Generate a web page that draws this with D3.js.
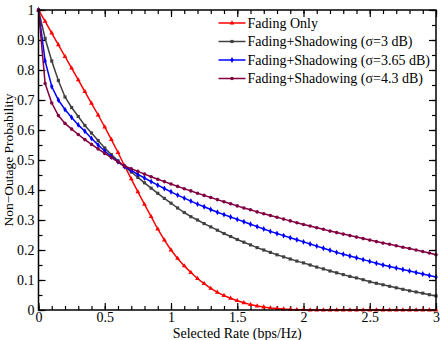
<!DOCTYPE html>
<html>
<head>
<meta charset="utf-8">
<script src="https://cdn.jsdelivr.net/npm/d3@7"></script>
<style>
body { margin: 0; background: #fff; }
svg text { font-family: "Liberation Serif", "Times New Roman", serif; }
</style>
</head>
<body>
<svg id="chart" width="441" height="340"></svg>
<script>
// rate grid, 0 to 3 bps/Hz in 0.05 steps
const rates = d3.range(0, 61).map(i => +(i * 0.05).toFixed(2))

const fadingOnly = [
    1.000, 0.962, 0.923, 0.884, 0.845, 0.806, 0.767, 0.728, 0.689, 0.650,
    0.610, 0.568, 0.525, 0.480, 0.437, 0.394, 0.352, 0.311, 0.270, 0.233,
    0.200, 0.172, 0.147, 0.125, 0.105, 0.088, 0.072, 0.059, 0.048, 0.039,
    0.031, 0.024, 0.018, 0.013, 0.010, 0.007, 0.005, 0.003, 0.002, 0.001,
    0.001, 0, 0, 0, 0, 0, 0, 0, 0, 0,
    0, 0, 0, 0, 0, 0, 0, 0, 0, 0,
    0
]
const shadow3 = [
    1.000, 0.905, 0.830, 0.765, 0.710, 0.675, 0.645, 0.615, 0.590, 0.565,
    0.540, 0.518, 0.497, 0.478, 0.460, 0.442, 0.424, 0.406, 0.389, 0.372,
    0.356, 0.340, 0.325, 0.311, 0.300, 0.288, 0.277, 0.266, 0.255, 0.245,
    0.235, 0.226, 0.217, 0.208, 0.200, 0.192, 0.184, 0.177, 0.170, 0.163,
    0.157, 0.150, 0.143, 0.137, 0.130, 0.124, 0.118, 0.112, 0.107, 0.101,
    0.094, 0.089, 0.084, 0.079, 0.074, 0.069, 0.064, 0.060, 0.056, 0.051,
    0.047
]
const shadow365 = [
    1.000, 0.830, 0.745, 0.700, 0.668, 0.642, 0.617, 0.596, 0.572, 0.550,
    0.530, 0.511, 0.494, 0.478, 0.465, 0.452, 0.440, 0.428, 0.416, 0.405,
    0.394, 0.383, 0.373, 0.363, 0.353, 0.344, 0.335, 0.326, 0.318, 0.310,
    0.302, 0.294, 0.286, 0.278, 0.270, 0.262, 0.255, 0.248, 0.241, 0.234,
    0.227, 0.220, 0.213, 0.206, 0.199, 0.192, 0.186, 0.180, 0.174, 0.168,
    0.162, 0.156, 0.150, 0.145, 0.140, 0.135, 0.130, 0.125, 0.120, 0.115,
    0.110
]
const shadow43 = [
    1.000, 0.755, 0.690, 0.648, 0.622, 0.603, 0.585, 0.568, 0.552, 0.537,
    0.522, 0.508, 0.494, 0.480, 0.471, 0.462, 0.453, 0.444, 0.436, 0.428,
    0.420, 0.412, 0.404, 0.397, 0.389, 0.382, 0.375, 0.368, 0.361, 0.354,
    0.347, 0.340, 0.334, 0.327, 0.321, 0.315, 0.309, 0.303, 0.297, 0.291,
    0.285, 0.280, 0.274, 0.269, 0.263, 0.258, 0.253, 0.248, 0.243, 0.238,
    0.233, 0.228, 0.223, 0.219, 0.214, 0.209, 0.205, 0.200, 0.195, 0.190,
    0.184
]

const seriesNames = [
    "Fading Only",
    "Fading+Shadowing (σ=3 dB)",
    "Fading+Shadowing (σ=3.65 dB)",
    "Fading+Shadowing (σ=4.3 dB)"
]
const seriesValues = [fadingOnly, shadow3, shadow365, shadow43]
const seriesColors = ["#ff0000", "#404040", "#0000ff", "#800040"]
const seriesSymbols = [d3.symbolTriangle, d3.symbolSquare, d3.symbolDiamond, d3.symbolCircle]

const xTicks = [0, 0.5, 1, 1.5, 2, 2.5, 3]
const yTicks = [0, 0.1, 0.2, 0.3, 0.4, 0.5, 0.6, 0.7, 0.8, 0.9, 1]

const svg = d3.select("#chart")
const margin = {top: 10, right: 5, bottom: 30, left: 38.5}
const width = +svg.attr("width") - margin.left - margin.right
const height = +svg.attr("height") - margin.top - margin.bottom

const g = svg.append("g").attr("transform", "translate(" + margin.left + "," + margin.top + ")")

const x = d3.scaleLinear().domain([0, 3]).range([0, width])
const y = d3.scaleLinear().domain([0, 1]).range([height, 0])

const fmt = d => String(d)

// axes with inward ticks, minor ones shorter
function drawAxis (axis, transform, major, minor, labels) {
    const a = g.append("g").attr("transform", transform)
    a.call(axis().tickValues(minor).tickSize(-4).tickFormat(""))
    a.select(".domain").remove()
    const b = g.append("g").attr("transform", transform)
    b.call(axis().tickValues(major).tickSize(-7).tickPadding(labels ? 10 : 0).tickFormat(labels ? fmt : ""))
    b.select(".domain").remove()
    a.selectAll(".tick line").attr("stroke", "#000").attr("stroke-width", 1.2)
    b.selectAll(".tick line").attr("stroke", "#000").attr("stroke-width", 1.2)
    b.attr("font-family", null).attr("font-size", 14)
    b.selectAll(".tick text").attr("fill", "#000")
    return b
}

const xMinor = d3.range(0, 31).map(i => i / 10)
const yMinor = d3.range(0, 21).map(i => i / 20)

const xb = drawAxis(() => d3.axisBottom(x), "translate(0," + height + ")", xTicks, xMinor, true)
xb.selectAll(".tick text").attr("dy", "0.15em")
drawAxis(() => d3.axisTop(x), "translate(0,0)", xTicks, xMinor, false)
const yl = drawAxis(() => d3.axisLeft(y), "translate(0,0)", yTicks, yMinor, true)
yl.selectAll(".tick text").attr("dx", "6px")
drawAxis(() => d3.axisRight(y), "translate(" + width + ",0)", yTicks, yMinor, false)

// curves
const line = d3.line().x((d, i) => x(rates[i])).y(d => y(d))
seriesValues.forEach((vals, k) => {
    g.append("path")
        .datum(vals)
        .attr("fill", "none")
        .attr("stroke", seriesColors[k])
        .attr("stroke-width", 1.5)
        .attr("d", line)
    g.selectAll(".m" + k)
        .data(vals)
        .enter().append("path")
        .attr("class", "m" + k)
        .attr("transform", (d, i) => "translate(" + x(rates[i]) + "," + y(d) + ")")
        .attr("d", d3.symbol().type(seriesSymbols[k]).size(10))
        .attr("fill", seriesColors[k])
})

// frame
g.append("rect")
    .attr("width", width).attr("height", height)
    .attr("fill", "none").attr("stroke", "#000").attr("stroke-width", 1.5)

// legend
const legend = g.append("g").attr("transform", "translate(180,13)")
seriesNames.forEach((name, k) => {
    const row = legend.append("g").attr("transform", "translate(0," + (k * 18.5) + ")")
    row.append("line").attr("x1", 0).attr("x2", 27).attr("stroke", seriesColors[k]).attr("stroke-width", 1.5)
    row.append("path").attr("transform", "translate(13.5,0)")
        .attr("d", d3.symbol().type(seriesSymbols[k]).size(10)).attr("fill", seriesColors[k])
    row.append("text").attr("x", 29).attr("dy", "0.33em").attr("font-size", 14).text(name)
})

// axis titles
svg.append("text")
    .attr("x", margin.left + width / 2).attr("y", 338)
    .attr("text-anchor", "middle").attr("font-size", 14)
    .text("Selected Rate (bps/Hz)")
svg.append("text")
    .attr("transform", "translate(13," + (margin.top + height / 2) + ") rotate(-90)")
    .attr("text-anchor", "middle").attr("font-size", 13.5)
    .text("Non\u2212Outage Probability")
</script>
</body>
</html>
